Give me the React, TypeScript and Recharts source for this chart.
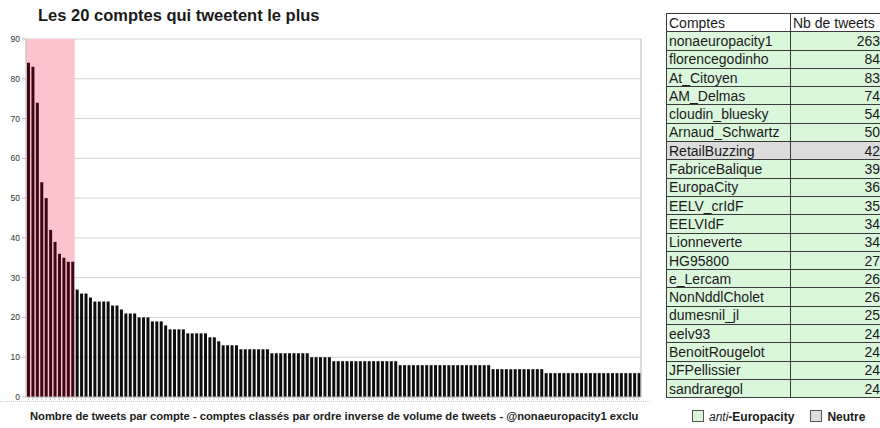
import React from "react";
import {
  Bar,
  BarChart,
  CartesianGrid,
  Cell,
  ReferenceArea,
  XAxis,
  YAxis,
} from "recharts";

// Tweets per account, sorted descending (@nonaeuropacity1 excluded from the chart)
const tweetCounts = [
  84, 83, 74, 54, 50, 42, 39, 36, 35, 34, 34,
  27, 26, 26, 25, 24, 24, 24, 24, 23, 23, 22, 21, 21, 21, 20, 20, 20, 19, 19, 19, 18,
  17, 17, 17, 17, 16, 16, 16, 16, 16, 15, 15, 14, 13, 13, 13, 13,
  12, 12, 12, 12, 12, 12, 12, 11, 11, 11, 11, 11, 11, 11, 11, 11,
  10, 10, 10, 10, 10, 9, 9, 9, 9, 9, 9, 9, 9, 9, 9, 9, 9, 9, 9, 9,
  8, 8, 8, 8, 8, 8, 8, 8, 8, 8, 8, 8, 8, 8, 8, 8, 8, 8, 8, 8, 8,
  7, 7, 7, 7, 7, 7, 7, 7, 7, 7, 7, 7,
  6, 6, 6, 6, 6, 6, 6, 6, 6, 6, 6, 6, 6, 6, 6, 6, 6, 6, 6, 6, 6, 6,
];

// how many leading bars get the pink highlight
const highlightCount = 11;

const yTicks = [0, 10, 20, 30, 40, 50, 60, 70, 80, 90];

const accountNames = [
  "nonaeuropacity1", "florencegodinho", "At_Citoyen", "AM_Delmas", "cloudin_bluesky",
  "Arnaud_Schwartz", "RetailBuzzing", "FabriceBalique", "EuropaCity", "EELV_crIdF",
  "EELVIdF", "Lionneverte", "HG95800", "e_Lercam", "NonNddlCholet",
  "dumesnil_jl", "eelv93", "BenoitRougelot", "JFPellissier", "sandraregol",
];
const accountTweets = [263, 84, 83, 74, 54, 50, 42, 39, 36, 35, 34, 34, 27, 26, 26, 25, 24, 24, 24, 24];
const neutralAccounts = ["RetailBuzzing"];

const FONT = "'Liberation Sans', Arial, sans-serif";
const PINK = "#fcc3cd";
const GREEN = "#daf7dc";
const GREY = "#dcdcdc";
const GRID = "#d4d4d4";

const rows = tweetCounts.map((v, i) => ({ id: "c" + i, tweets: v }));

function TweetsChart() {
  return (
    <BarChart
      width={660}
      height={420}
      data={rows}
      margin={{ top: 39, right: 18, left: 0, bottom: 19 }}
      barSize={3}
    >
      <ReferenceArea
        yAxisId="l"
        x1={rows[0].id}
        x2={rows[highlightCount - 1].id}
        y1={0}
        y2={90}
        fill={PINK}
        fillOpacity={1}
        stroke="none"
      />
      <CartesianGrid yAxisId="l" stroke={GRID} vertical={false} />
      <XAxis
        dataKey="id"
        interval={0}
        height={4}
        tickSize={3}
        tickFormatter={() => ""}
        tickLine={{ stroke: "#c8c8c8" }}
        axisLine={{ stroke: "#b8b8b8" }}
      />
      <YAxis
        yAxisId="l"
        domain={[0, 90]}
        ticks={yTicks}
        width={26}
        tickSize={4}
        tick={{ fontSize: 8.5, fill: "#333", fontFamily: FONT }}
        tickLine={{ stroke: "#bbb" }}
        axisLine={{ stroke: "#b8b8b8" }}
      />
      <YAxis
        yAxisId="r"
        orientation="right"
        domain={[0, 90]}
        width={1}
        tick={false}
        tickLine={false}
        axisLine={{ stroke: "#b8b8b8" }}
      />
      <Bar yAxisId="l" dataKey="tweets" isAnimationActive={false}>
        {rows.map((r, i) => (
          <Cell key={r.id} fill={i < highlightCount ? "#3a0812" : "#0d0d0d"} />
        ))}
      </Bar>
    </BarChart>
  );
}

function AccountsTable() {
  const cell: React.CSSProperties = {
    border: "1px solid #3a3a3a",
    padding: "0 2px",
    height: 17.3,
    lineHeight: "16px",
    fontSize: 14,
    color: "#1a1a1a",
    whiteSpace: "nowrap",
    overflow: "hidden",
  };
  return (
    <table
      style={{
        position: "absolute",
        left: 666,
        top: 13,
        width: 218,
        borderCollapse: "collapse",
        tableLayout: "fixed",
        fontFamily: FONT,
      }}
    >
      <colgroup>
        <col style={{ width: 124 }} />
        <col style={{ width: 94 }} />
      </colgroup>
      <tbody>
        <tr>
          <td style={{ ...cell, background: "#fff" }}>Comptes</td>
          <td style={{ ...cell, background: "#fff", paddingRight: 4 }}>Nb de tweets</td>
        </tr>
        {accountNames.map((name, i) => {
          const bg = neutralAccounts.includes(name) ? GREY : GREEN;
          return (
            <tr key={name}>
              <td style={{ ...cell, background: bg }}>{name}</td>
              <td style={{ ...cell, background: bg, textAlign: "right", paddingRight: 4 }}>
                {accountTweets[i]}
              </td>
            </tr>
          );
        })}
      </tbody>
    </table>
  );
}

export default function App() {
  const swatch = (bg: string): React.CSSProperties => ({
    display: "inline-block",
    width: 10,
    height: 10,
    border: "1px solid #555",
    background: bg,
    marginRight: 5,
    verticalAlign: "-1px",
  });
  return (
    <div
      style={{
        position: "absolute",
        left: 0,
        top: 0,
        width: 880,
        height: 428,
        background: "#fff",
        overflow: "hidden",
        fontFamily: FONT,
      }}
    >
      <div
        style={{
          position: "absolute",
          left: 38,
          top: 6,
          fontSize: 16.5,
          fontWeight: "bold",
          color: "#1a1a1a",
          whiteSpace: "nowrap",
        }}
      >
        Les 20 comptes qui tweetent le plus
      </div>
      <div style={{ position: "absolute", left: 0, top: 0 }}>
        <TweetsChart />
      </div>
      <div
        style={{
          position: "absolute",
          left: 0,
          top: 401,
          width: 650,
          borderTop: "1px dotted #cfcfcf",
        }}
      />
      <div
        style={{
          position: "absolute",
          left: 30,
          top: 410,
          fontSize: 11.2,
          fontWeight: "bold",
          color: "#1a1a1a",
          whiteSpace: "nowrap",
        }}
      >
        Nombre de tweets par compte - comptes classés par ordre inverse de volume de tweets - @nonaeuropacity1 exclu
      </div>
      <AccountsTable />
      <div
        style={{
          position: "absolute",
          left: 692,
          top: 410,
          fontSize: 12,
          color: "#1a1a1a",
          whiteSpace: "nowrap",
        }}
      >
        <span style={swatch(GREEN)} />
        <i>anti</i>
        <b>-Europacity</b>
        <span style={{ display: "inline-block", width: 16 }} />
        <span style={swatch(GREY)} />
        <b>Neutre</b>
      </div>
    </div>
  );
}
